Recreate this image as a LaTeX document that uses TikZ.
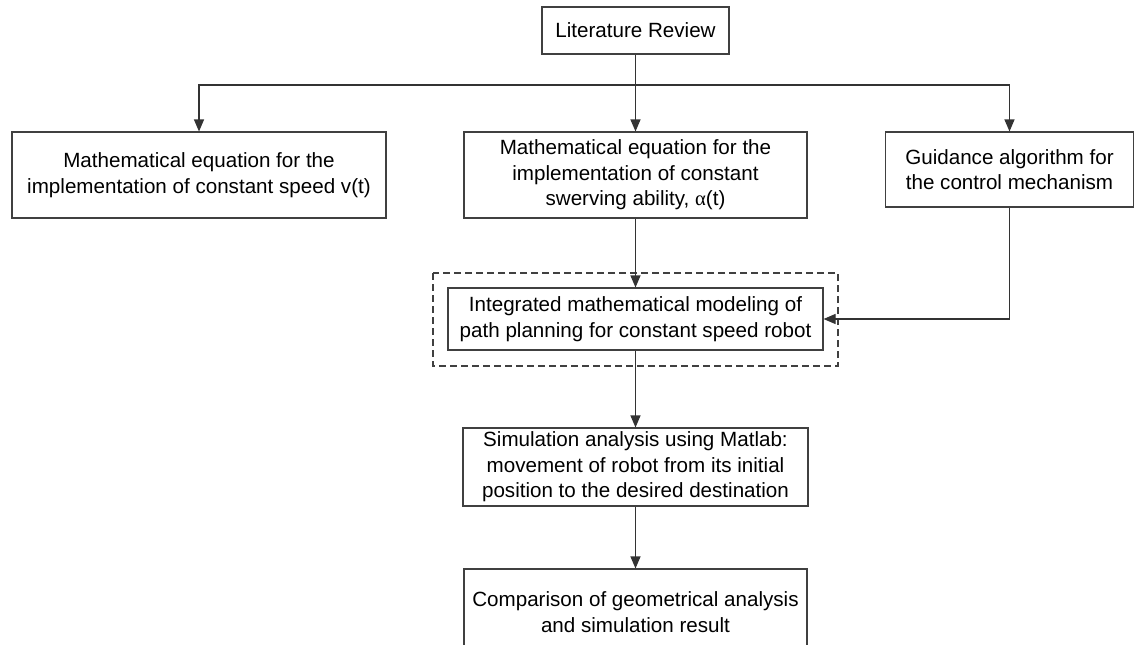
\documentclass[tikz,border=0pt]{standalone}
\usepackage{fontspec}
\setmainfont{Liberation Sans}
\newfontfamily\greekserif{Liberation Serif}
\usetikzlibrary{arrows.meta}
\tikzset{
  box/.style={draw=black!75, line width=1.1pt, fill=white, align=center, inner sep=0pt,
    font=\fontsize{20.6pt}{25.5pt}\selectfont},
  arr/.style={draw=black!80, line width=1.1pt, -{Triangle[length=12pt,width=10pt]}},
  ln/.style={draw=black!80, line width=1.1pt},
  dashbox/.style={draw=black!75, line width=1.1pt, dash pattern=on 7pt off 4pt}
}
\begin{document}
\begin{tikzpicture}[x=1pt,y=-1pt]
\useasboundingbox (0,0) rectangle (1135,645);
\clip (0,0) rectangle (1135,645);
\fill[white] (0,0) rectangle (1135,645);

\node[box, minimum width=187pt, minimum height=47pt] (lit) at (635.5,30.5) {Literature Review};
\node[box, minimum width=374pt, minimum height=86pt] (left) at (199,175) {Mathematical equation for the\\implementation of constant speed v(t)};
\node[box, minimum width=343pt, minimum height=86pt] (mid) at (635.5,175) {Mathematical equation for the\\implementation of constant\\swerving ability, {\greekserif α}(t)};
\node[box, minimum width=248pt, minimum height=75pt] (right) at (1009.5,169.5) {Guidance algorithm for\\the control mechanism};
\node[box, minimum width=375pt, minimum height=62pt] (inner) at (635.5,319) {Integrated mathematical modeling of\\path planning for constant speed robot};
\draw[dashbox] (433,273) rectangle (838,366);
\node[box, minimum width=345pt, minimum height=78pt] (sim) at (635.5,467) {Simulation analysis using Matlab:\\movement of robot from its initial\\position to the desired destination};
\node[box, minimum width=343pt, minimum height=86pt] (comp) at (635.5,612) {Comparison of geometrical analysis\\and simulation result};

\coordinate (j) at (635.5,85);
\draw[ln] (lit.south) -- (j);
\draw[arr] (j) -| (left.north);
\draw[arr] (j) -| (right.north);
\draw[arr] (j) -- (mid.north);
\draw[arr] (mid.south) -- (inner.north);
\draw[arr] (right.south) |- (inner.east);
\draw[arr] (inner.south) -- (sim.north);
\draw[arr] (sim.south) -- (comp.north);
\end{tikzpicture}
\end{document}
